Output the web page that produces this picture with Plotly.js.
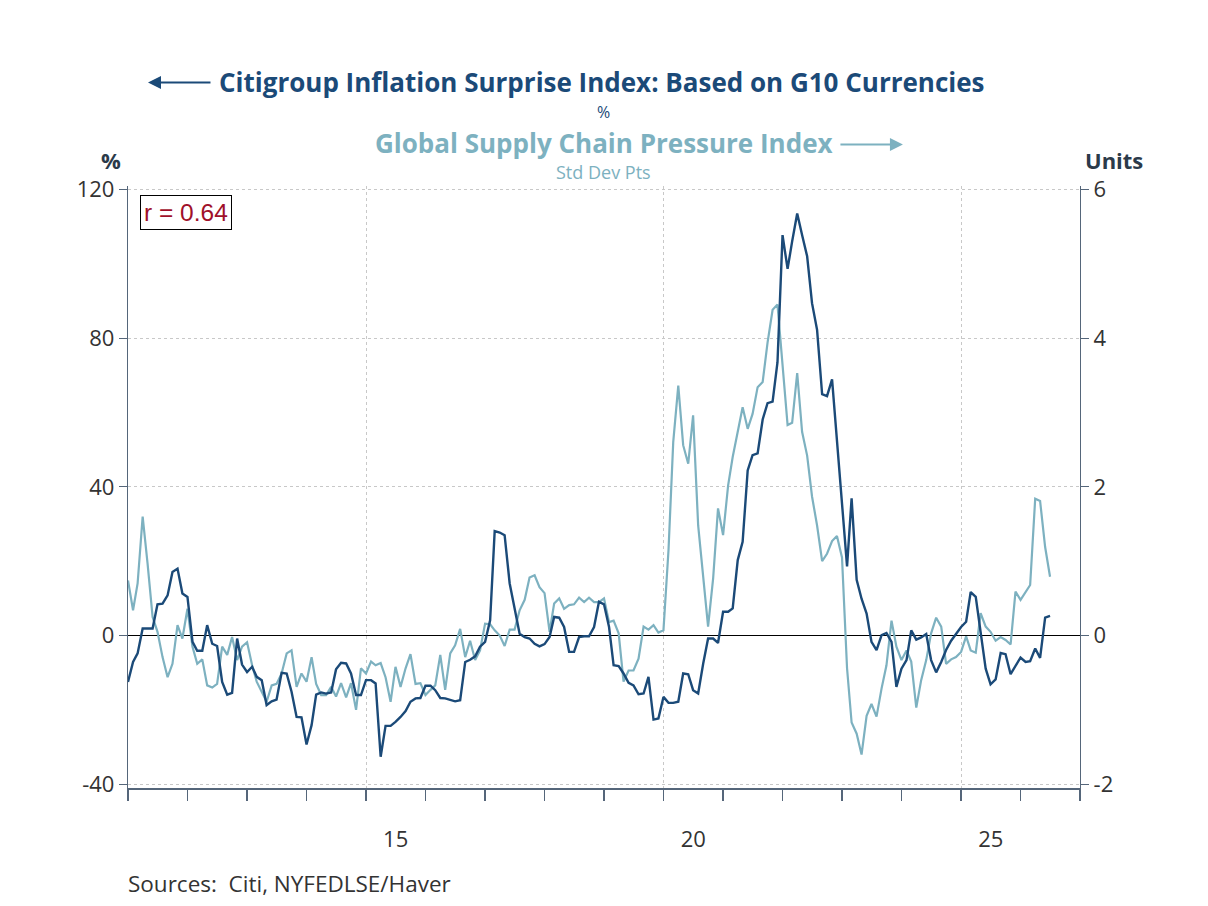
<!DOCTYPE html>
<html>
<head>
<meta charset="utf-8">
<script src="https://cdn.plot.ly/plotly-3.0.1.min.js"></script>
<style>
  html, body { margin: 0; padding: 0; background: #fff; }
  #chart { width: 1208px; height: 906px; }
</style>
</head>
<body>
<div id="chart"></div>
<script>
// Citi inflation surprise (G10) vs NY Fed supply chain pressure, monthly from Jan 2011

const START_YEAR = 2011;

// Citigroup Inflation Surprise Index, % (left axis)
const citiSurprise = [
  -12.5, -7.1, -4.8, 1.9, 1.9, 1.9, 8.4, 8.6, 10.8, 17.1, 18.0, 11.3,
  10.4, -1.7, -4.1, -4.1, 2.8, -2.2, -2.8, -12.5, -15.9, -15.4, -0.8, -7.8,
  -9.8, -8.4, -11.1, -12.0, -18.7, -17.7, -17.2, -10.0, -10.2, -15.1, -21.9, -22.0,
  -29.3, -24.1, -15.9, -15.3, -15.6, -15.3, -9.1, -7.3, -7.5, -10.2, -16.0, -16.0,
  -12.0, -12.0, -12.9, -32.6, -24.3, -24.3, -23.2, -21.9, -20.3, -17.8, -16.9, -16.8,
  -13.5, -13.5, -14.7, -16.8, -16.9, -17.4, -17.7, -17.4, -7.1, -6.5, -5.6, -3.0,
  -1.7, 4.1, 28.1, 27.7, 27.0, 14.0, 7.7, 0.5, -0.4, -0.8, -2.2, -2.9,
  -2.3, -0.4, 5.0, 4.8, 2.3, -4.4, -4.4, -0.4, -0.2, -0.2, 2.3, 9.1,
  8.4, 2.3, -8.0, -8.2, -10.2, -12.7, -13.4, -15.8, -15.6, -11.1, -22.6, -22.3,
  -16.5, -18.1, -18.1, -17.8, -10.2, -10.4, -14.7, -15.6, -7.5, -0.8, -0.8, -2.0,
  6.4, 6.4, 7.3, 20.3, 25.2, 44.4, 48.5, 49.0, 58.1, 62.5, 62.9, 73.5,
  107.7, 98.6, 106.0, 113.5, 107.7, 102.0, 89.4, 82.2, 64.9, 64.4, 68.9, 51.9,
  35.5, 18.6, 36.9, 15.0, 9.9, 5.9, -1.7, -3.9, 0.1, 0.7, -1.7, -13.8,
  -8.9, -6.6, 1.4, -1.1, -0.5, 0.4, -6.6, -9.9, -7.1, -3.9, -1.4, 0.4,
  2.3, 3.7, 11.7, 10.4, 0.5, -8.9, -13.1, -11.8, -4.7, -5.0, -10.4, -8.0,
  -5.9, -7.1, -6.9, -3.5, -6.0, 4.8, 5.3
];

// Global Supply Chain Pressure Index, std dev pts (right axis)
const supplyChain = [
  0.74, 0.34, 0.70, 1.60, 0.97, 0.25, 0.05, -0.29, -0.56, -0.38, 0.14, -0.04,
  0.36, -0.15, -0.38, -0.32, -0.67, -0.70, -0.65, -0.15, -0.26, -0.02, -0.33, -0.15,
  -0.09, -0.40, -0.62, -0.76, -0.89, -0.67, -0.65, -0.51, -0.24, -0.20, -0.69, -0.51,
  -0.62, -0.29, -0.65, -0.80, -0.80, -0.69, -0.82, -0.64, -0.83, -0.64, -1.00, -0.44,
  -0.51, -0.35, -0.40, -0.37, -0.56, -0.89, -0.42, -0.69, -0.44, -0.25, -0.65, -0.64,
  -0.80, -0.73, -0.67, -0.26, -0.73, -0.24, -0.13, 0.09, -0.29, -0.07, -0.33, -0.20,
  0.16, 0.15, 0.07, 0.00, -0.14, 0.08, 0.08, 0.34, 0.48, 0.78, 0.81, 0.65,
  0.57, 0.05, 0.43, 0.50, 0.36, 0.41, 0.42, 0.51, 0.45, 0.51, 0.45, 0.45,
  0.50, 0.18, 0.20, 0.03, -0.62, -0.47, -0.47, -0.31, 0.12, 0.08, 0.14, 0.04,
  0.07, 1.15, 2.60, 3.36, 2.56, 2.31, 2.96, 1.48, 0.79, 0.12, 0.77, 1.71,
  1.35, 2.02, 2.40, 2.76, 3.07, 2.78, 2.98, 3.34, 3.41, 3.94, 4.38, 4.45,
  3.60, 2.83, 2.86, 3.53, 2.74, 2.42, 1.87, 1.48, 1.00, 1.10, 1.27, 1.34,
  1.05, -0.44, -1.17, -1.32, -1.60, -1.08, -0.92, -1.09, -0.71, -0.40, 0.20, -0.15,
  -0.33, -0.20, -0.35, -0.97, -0.60, -0.33, 0.03, 0.24, 0.12, -0.38, -0.32, -0.29,
  -0.22, -0.01, -0.20, -0.23, 0.30, 0.12, 0.05, -0.07, -0.02, -0.06, -0.12, 0.59,
  0.48, 0.59, 0.68, 1.84, 1.81, 1.19, 0.79
];

const labelYears = ["2015", "2020", "2025"];
const labelText = ["15", "20", "25"];
const xRange = ["2011-01-01", "2027-01-01"];

const leftTicks = [-40, 0, 40, 80, 120];
const leftTickText = ["-40", "0", "40", "80", "120"];
const rightTicks = [-2, 0, 2, 4, 6];
const rightTickText = ["-2", "0", "2", "4", "6"];

// monthly dates for the series
const months = citiSurprise.map((_, i) => {
  const y = START_YEAR + Math.floor(i / 12);
  const m = (i % 12) + 1;
  return y + "-" + String(m).padStart(2, "0") + "-01";
});

const DARK = "#1b4a78";
const LIGHT = "#7db1c0";
const AXIS = "#55667a";
const GRID = "#c8c8c8";
const TXT = "#333333";
const FONT = "Open Sans, Noto Sans, sans-serif";

const lightTrace = {
  x: months,
  y: supplyChain,
  xaxis: "x",
  yaxis: "y",
  type: "scatter",
  mode: "lines",
  line: { color: LIGHT, width: 2.2 },
  hoverinfo: "skip",
};

const darkTrace = {
  x: months,
  y: citiSurprise,
  xaxis: "x2",
  yaxis: "y2",
  type: "scatter",
  mode: "lines",
  line: { color: DARK, width: 2.4 },
  hoverinfo: "skip",
};

const layout = {
  width: 1208,
  height: 906,
  margin: { l: 128, r: 128, t: 186, b: 118 },
  paper_bgcolor: "#ffffff",
  plot_bgcolor: "#ffffff",
  showlegend: false,
  font: { family: FONT, color: TXT, size: 22 },
  // light series axis: year ticks + grid
  xaxis: {
    type: "date",
    range: xRange,
    tickmode: "array",
    tickvals: labelYears.map((y) => y + "-01-01"),
    ticks: "",
    showticklabels: false,
    showgrid: true,
    gridcolor: GRID,
    griddash: "dot",
    gridwidth: 1,
    showline: true,
    linecolor: AXIS,
    linewidth: 1.5,
    minor: {
      dtick: "M12",
      tick0: "2011-01-01",
      ticks: "outside",
      ticklen: 11,
      tickcolor: AXIS,
      tickwidth: 1.2,
      showgrid: false,
    },
  },
  // dark series axis: year labels centred in the year
  xaxis2: {
    type: "date",
    range: xRange,
    overlaying: "x",
    anchor: "y2",
    tickmode: "array",
    tickvals: labelYears.map((y) => y + "-07-02"),
    ticktext: labelText,
    ticks: "",
    showgrid: false,
    showline: false,
    ticklabelstandoff: 36,
    tickfont: { size: 22, color: TXT, family: FONT },
  },
  // right axis, std dev pts
  yaxis: {
    side: "right",
    range: [-2.05, 6.045],
    tickmode: "array",
    tickvals: rightTicks,
    ticktext: rightTickText,
    ticks: "outside",
    ticklen: 8,
    tickcolor: AXIS,
    showline: true,
    linecolor: AXIS,
    linewidth: 1.2,
    showgrid: true,
    gridcolor: GRID,
    griddash: "dot",
    zeroline: true,
    zerolinecolor: "#000000",
    zerolinewidth: 1,
    tickfont: { size: 22, color: TXT, family: FONT },
  },
  // left axis, %
  yaxis2: {
    side: "left",
    overlaying: "y",
    anchor: "x2",
    range: [-41, 120.9],
    tickmode: "array",
    tickvals: leftTicks,
    ticktext: leftTickText,
    ticks: "outside",
    ticklen: 8,
    tickcolor: AXIS,
    showline: true,
    linecolor: AXIS,
    linewidth: 1.2,
    showgrid: false,
    zeroline: false,
    tickfont: { size: 22, color: TXT, family: FONT },
  },
  annotations: [
    {
      xref: "paper", yref: "paper", x: 0.498, y: 1.173,
      text: "<b>Citigroup Inflation Surprise Index: Based on G10 Currencies</b>",
      showarrow: false, xanchor: "center", yanchor: "middle",
      font: { family: FONT, size: 26, color: DARK },
    },
    {
      xref: "paper", yref: "paper", x: 0.021, y: 1.172, ax: 64, ay: 0,
      text: "", showarrow: true, arrowhead: 2, arrowsize: 1.3,
      arrowwidth: 2, arrowcolor: DARK,
    },
    {
      xref: "paper", yref: "paper", x: 0.499, y: 1.123,
      text: "%", showarrow: false, xanchor: "center", yanchor: "middle",
      font: { family: FONT, size: 16, color: DARK },
    },
    {
      xref: "paper", yref: "paper", x: 0.5, y: 1.071,
      text: "<b>Global Supply Chain Pressure Index</b>",
      showarrow: false, xanchor: "center", yanchor: "middle",
      font: { family: FONT, size: 26, color: LIGHT },
    },
    {
      xref: "paper", yref: "paper", x: 0.814, y: 1.069, ax: -64, ay: 0,
      text: "", showarrow: true, arrowhead: 2, arrowsize: 1.3,
      arrowwidth: 2, arrowcolor: LIGHT,
    },
    {
      xref: "paper", yref: "paper", x: 0.499, y: 1.024,
      text: "Std Dev Pts", showarrow: false, xanchor: "center", yanchor: "middle",
      font: { family: FONT, size: 18, color: LIGHT },
    },
    {
      xref: "paper", yref: "paper", x: -0.018, y: 1.043,
      text: "<b>%</b>", showarrow: false, xanchor: "center", yanchor: "middle",
      font: { family: FONT, size: 22, color: "#2b3a4a" },
    },
    {
      xref: "paper", yref: "paper", x: 1.036, y: 1.043,
      text: "<b>Units</b>", showarrow: false, xanchor: "center", yanchor: "middle",
      font: { family: FONT, size: 22, color: "#2b3a4a" },
    },
    {
      xref: "paper", yref: "paper", x: 0.0126, y: 0.985,
      text: "r = 0.64", showarrow: false, xanchor: "left", yanchor: "top",
      bordercolor: "#000000", borderwidth: 1, borderpad: 3, bgcolor: "#ffffff",
      font: { family: "Liberation Sans, Arial, sans-serif", size: 24.5, color: "#a0102a" },
    },
    {
      xref: "paper", yref: "paper", x: -0.002, y: -0.158,
      text: "Sources:  Citi, NYFEDLSE/Haver", showarrow: false,
      xanchor: "left", yanchor: "middle",
      font: { family: FONT, size: 22.5, color: TXT },
    },
  ],
};

Plotly.newPlot("chart", [lightTrace, darkTrace], layout, {
  displayModeBar: false,
  staticPlot: true,
});
</script>
</body>
</html>
